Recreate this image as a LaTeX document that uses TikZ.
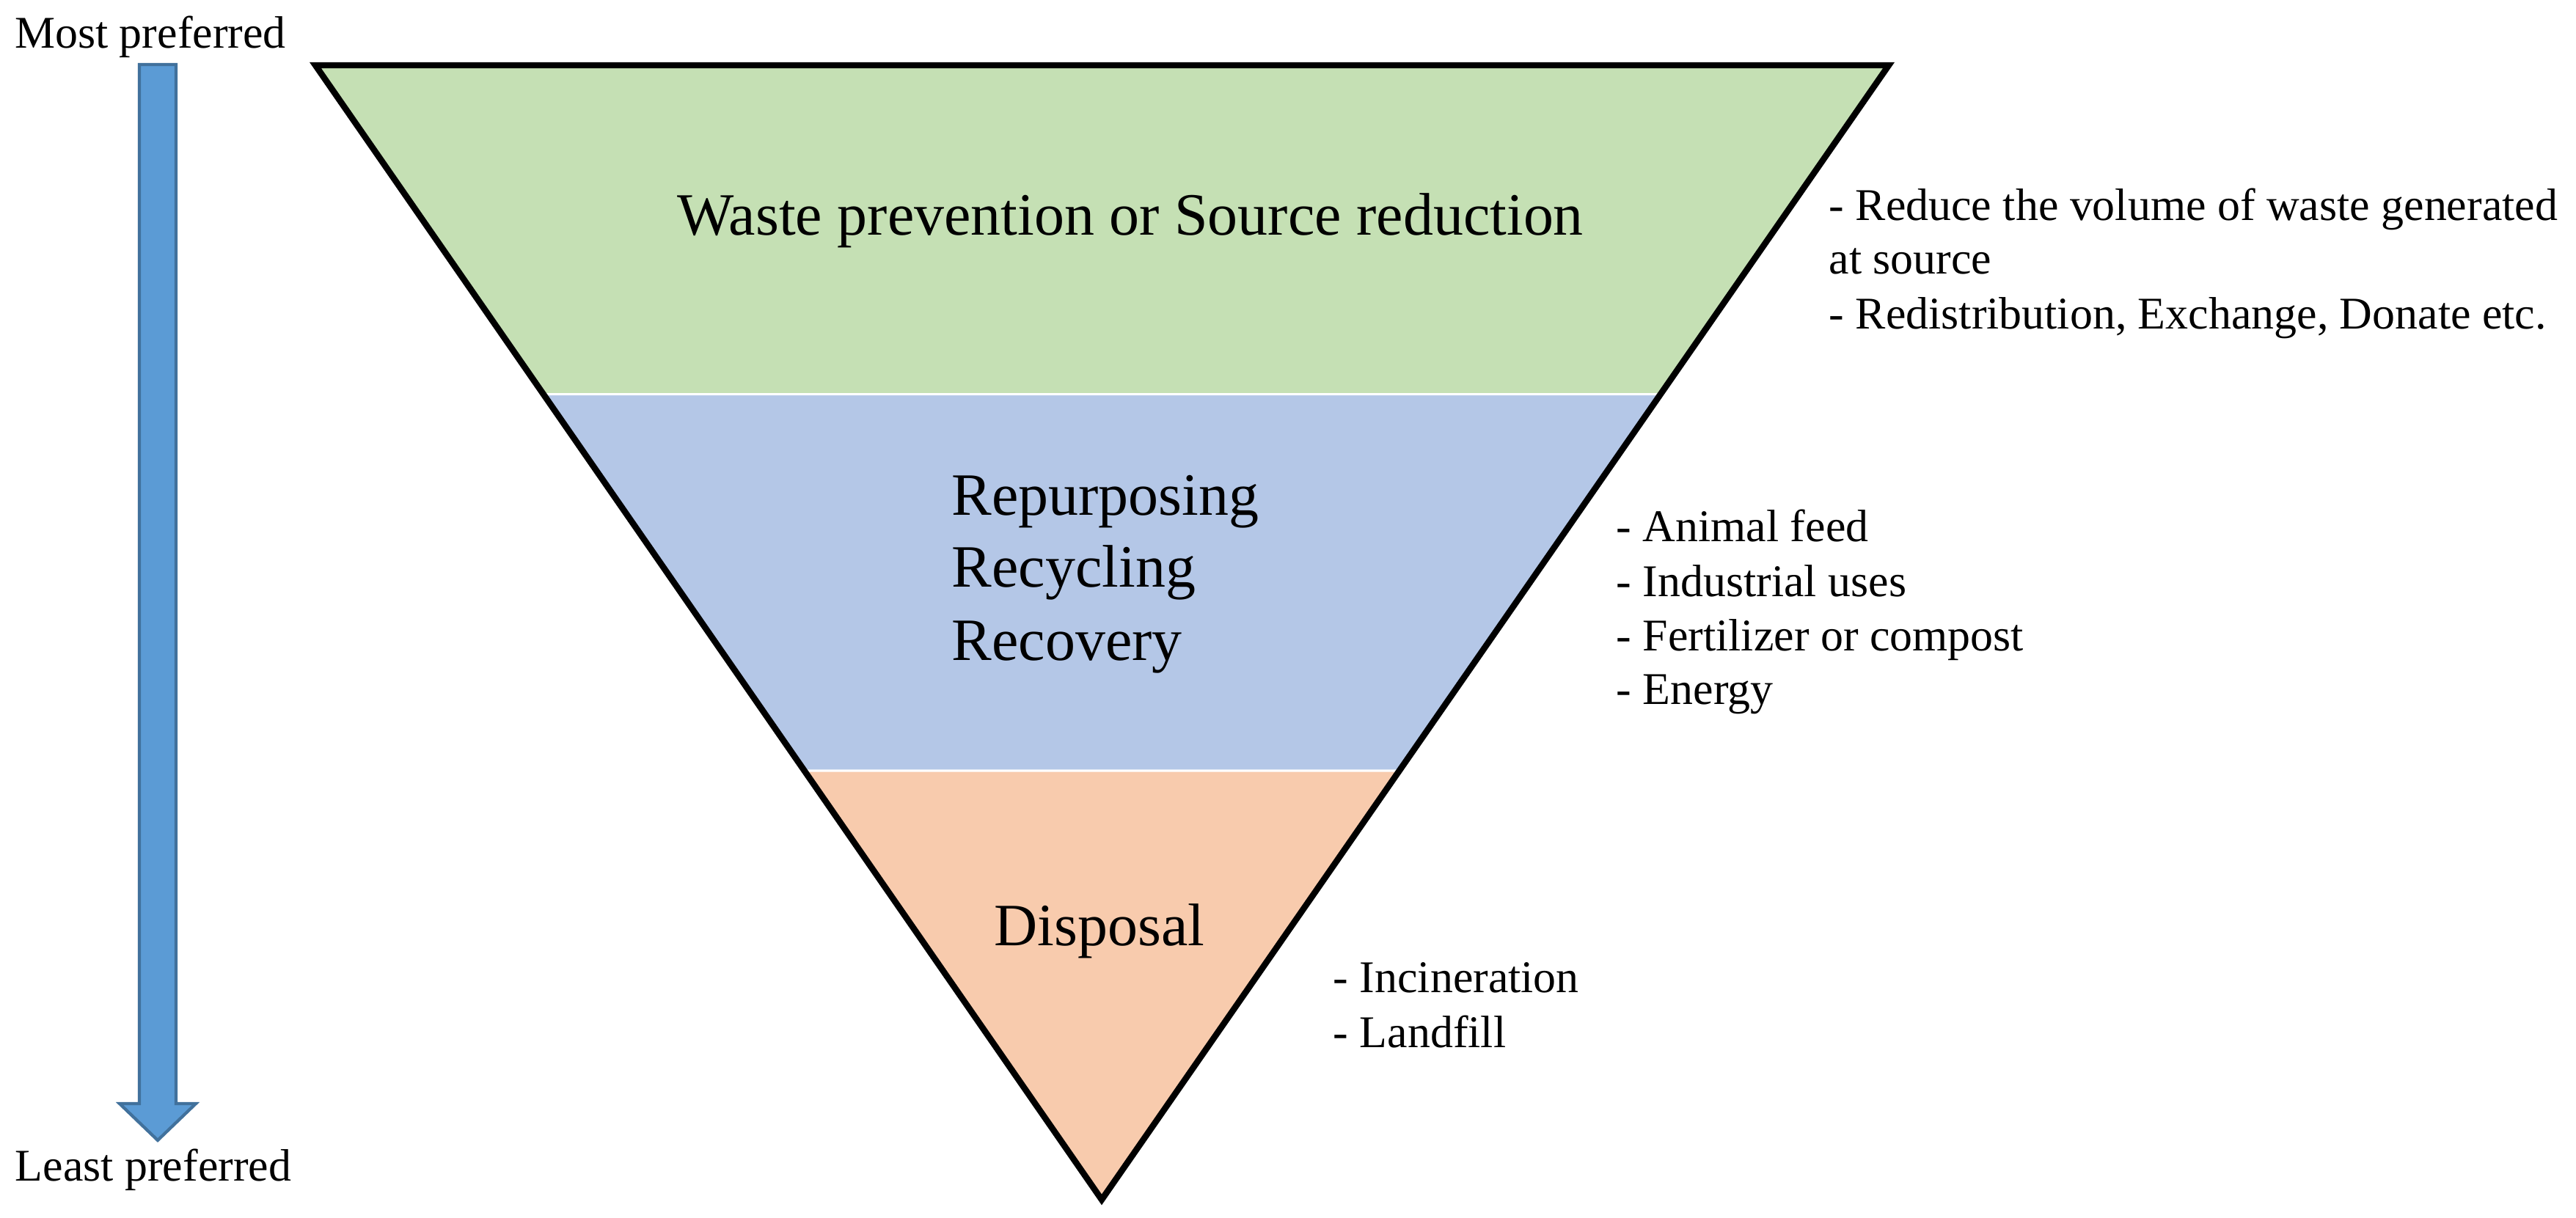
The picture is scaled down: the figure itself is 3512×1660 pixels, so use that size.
\documentclass[tikz,border=0pt]{standalone}
\usepackage{fontspec}
\setmainfont{Liberation Serif}
\usetikzlibrary{calc}

\definecolor{bandgreen}{HTML}{C5E0B4}
\definecolor{bandblue}{HTML}{B4C7E7}
\definecolor{bandorange}{HTML}{F8CBAD}
\definecolor{arrowfill}{HTML}{5B9BD5}
\definecolor{arrowline}{HTML}{41719C}

\begin{document}
\begin{tikzpicture}[x=0.01cm, y=-0.01cm,
bandtitle/.style={font=\fontsize{23.3}{28}\selectfont, inner sep=0pt, anchor=base},
notetext/.style={font=\fontsize{17.6}{21}\selectfont, inner sep=0pt, anchor=base west},
band/.style={draw=white, line width=0.85pt},
]
\useasboundingbox (0,0) rectangle (3512,1660);

%Corners
\coordinate (topleft)  at (430,89);
\coordinate (topright) at (2575,89);
\coordinate (apex)     at (1502,1636);
\coordinate (midleft)  at ($(topleft)!0.29!(apex)$);
\coordinate (midright) at ($(topright)!0.29!(apex)$);
\coordinate (lowleft)  at ($(topleft)!0.622!(apex)$);
\coordinate (lowright) at ($(topright)!0.622!(apex)$);

%Bands
\path[band, fill=bandgreen]  (topleft) -- (topright) -- (midright) -- (midleft) -- cycle;
\path[band, fill=bandblue]   (midleft) -- (midright) -- (lowright) -- (lowleft) -- cycle;
\path[band, fill=bandorange] (lowleft) -- (lowright) -- (apex) -- cycle;
\draw[line width=2.4pt, line join=miter] (topleft) -- (topright) -- (apex) -- cycle;

%Band titles
\node[bandtitle]                   (prevention)  at (1541,320)  {Waste prevention or Source reduction};
\node[bandtitle, anchor=base west] (repurposing) at (1297,702)  {Repurposing};
\node[bandtitle, anchor=base west] (recycling)   at (1297,800)  {Recycling};
\node[bandtitle, anchor=base west] (recovery)    at (1297,900)  {Recovery};
\node[bandtitle]                   (disposal)    at (1499,1289) {Disposal};

%Notes
\node[notetext] (reduce)         at (2493,300)  {- Reduce the volume of waste generated};
\node[notetext] (atsource)       at (2493,373)  {at source};
\node[notetext] (redistribution) at (2493,448)  {- Redistribution, Exchange, Donate etc.};
\node[notetext] (feed)           at (2203,738)  {- Animal feed};
\node[notetext] (industrial)     at (2203,813)  {- Industrial uses};
\node[notetext] (fertilizer)     at (2203,887)  {- Fertilizer or compost};
\node[notetext] (energy)         at (2203,960)  {- Energy};
\node[notetext] (incineration)   at (1817,1353) {- Incineration};
\node[notetext] (landfill)       at (1817,1428) {- Landfill};

%Preference arrow
\node[notetext, anchor=base] (most)  at (205,65)   {Most preferred};
\node[notetext, anchor=base] (least) at (209,1610) {Least preferred};
\filldraw[fill=arrowfill, draw=arrowline, line width=1.2pt, line join=miter]
  (190,88) -- (240,88) -- (240,1505) -- (267,1505) -- (215,1555) -- (163,1505) -- (190,1505) -- cycle;

\end{tikzpicture}
\end{document}
